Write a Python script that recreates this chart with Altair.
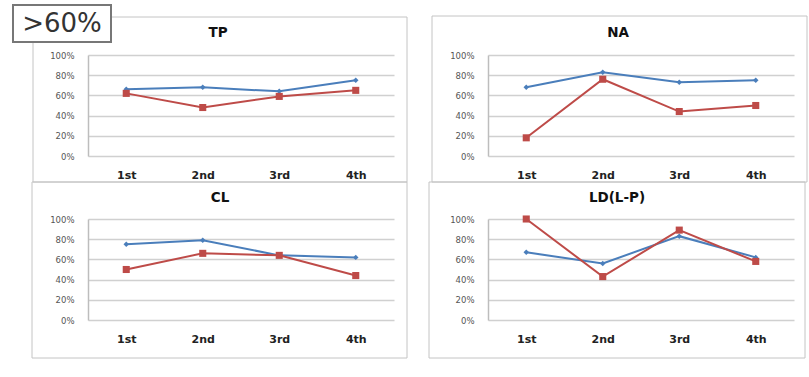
import altair as alt
import pandas as pd

periods = ["1st", "2nd", "3rd", "4th"]

tp_blue = [66, 68, 64, 75]
tp_red = [62, 48, 59, 65]
na_blue = [68, 83, 73, 75]
na_red = [18, 76, 44, 50]
cl_blue = [75, 79, 64, 62]
cl_red = [50, 66, 64, 44]
ld_blue = [67, 56, 83, 62]
ld_red = [100, 43, 89, 58]

panel_names = ["TP", "NA", "CL", "LD(L-P)"]
corner_label = ">60%"

BLUE = "#4A7EBB"
RED = "#BE4B48"
W, H = 306, 101


def panel(name, blue, red, box, title_pos, corner=False):
    df = pd.DataFrame({
        "period": periods * 2,
        "series": ["blue"] * 4 + ["red"] * 4,
        "value": [v / 100 for v in blue + red],
    })
    x = alt.X("period:N", sort=periods,
              scale=alt.Scale(type="point", padding=0.5),
              axis=alt.Axis(title=None, labelAngle=0, ticks=False, domain=False,
                            grid=False, labelFontSize=11, labelFontWeight="bold",
                            labelColor="#222222", labelPadding=13,
                            labelFont="DejaVu Sans"))
    y = alt.Y("value:Q", scale=alt.Scale(domain=[0, 1], nice=False),
              axis=alt.Axis(title=None, values=[0, 0.2, 0.4, 0.6, 0.8, 1.0],
                            format=".0%", ticks=False, domain=True,
                            domainColor="#bdbdbd", domainWidth=1.5,
                            grid=True, gridColor="#d0d0d0", gridWidth=1.5,
                            labelFontSize=8.5, labelColor="#555555",
                            labelPadding=14, labelFont="DejaVu Sans"))
    one = pd.DataFrame({"t": [name]})
    frame = alt.Chart(one).mark_rect(fillOpacity=0, stroke="#c4c4c4", strokeWidth=1).encode(
        x=alt.value(box[0]), x2=alt.value(box[1]), y=alt.value(box[2]), y2=alt.value(box[3]))
    title = alt.Chart(one).mark_text(font="DejaVu Sans", fontSize=13.5, fontWeight="bold",
                                     color="#111111", baseline="middle").encode(
        text="t:N", x=alt.value(title_pos[0]), y=alt.value(title_pos[1]))
    base = alt.Chart(df)
    bl = base.transform_filter(alt.datum.series == "blue")
    rd = base.transform_filter(alt.datum.series == "red")
    layers = [
        frame,
        title,
        bl.mark_line(color=BLUE, strokeWidth=2).encode(x=x, y=y),
        bl.mark_point(shape="diamond", filled=True, size=30, color=BLUE, opacity=1).encode(x=x, y=y),
        rd.mark_line(color=RED, strokeWidth=2).encode(x=x, y=y),
        rd.mark_point(shape="square", filled=True, size=50, color=RED, opacity=1).encode(x=x, y=y),
    ]
    if corner:
        cdf = pd.DataFrame({"t": [corner_label]})
        layers.append(alt.Chart(cdf).mark_rect(fill="white", stroke="#777777", strokeWidth=2).encode(
            x=alt.value(-75), x2=alt.value(23), y=alt.value(-50), y2=alt.value(-13)))
        layers.append(alt.Chart(cdf).mark_text(font="DejaVu Sans", fontSize=26, color="#333333",
                                               baseline="middle", align="center").encode(
            text="t:N", x=alt.value(-26), y=alt.value(-31)))
    return alt.layer(*layers).properties(width=W, height=H)


tp = panel(panel_names[0], tp_blue, tp_red, (-55, 319, -38, 127), (130, -22), corner=True)
na = panel(panel_names[1], na_blue, na_red, (-56, 319, -39, 127), (130, -22))
cl = panel(panel_names[2], cl_blue, cl_red, (-56, 319, -37, 139), (132, -21))
ld = panel(panel_names[3], ld_blue, ld_red, (-59, 317, -37, 139), (129, -21))

chart = alt.concat(tp, na, cl, ld, columns=2, spacing={"row": 63, "column": 94},
                   bounds="flush").properties(
    padding={"left": 12, "top": 4, "right": 0, "bottom": 0},
    background="white",
).configure_view(stroke=None)

chart.save("out.html", embed_options={"renderer": "svg", "actions": False})
